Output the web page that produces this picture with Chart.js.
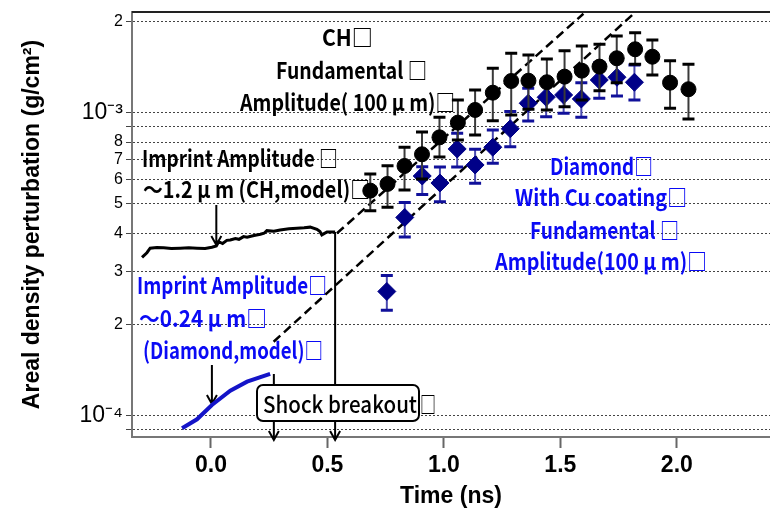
<!DOCTYPE html>
<html>
<head>
<meta charset="utf-8">
<script src="https://cdn.jsdelivr.net/npm/chart.js@4.4.1/dist/chart.umd.min.js"></script>
<style>
  html, body { margin: 0; padding: 0; background: #fff; }
  #wrap { width: 770px; height: 508px; }
</style>
</head>
<body>
<div id="wrap"><canvas id="grafico" width="770" height="508"></canvas></div>
<script>
// Datos CH (círculos negros): tiempo (ns), amplitud y barras de error
const chTime  = [0.684, 0.758, 0.831, 0.906, 0.981, 1.060, 1.134, 1.210, 1.289, 1.363, 1.442, 1.518, 1.592, 1.668, 1.742, 1.821, 1.895, 1.971, 2.050];
const chValue = [5.53e-4, 5.82e-4, 6.67e-4, 7.29e-4, 8.29e-4, 9.27e-4, 1.021e-3, 1.164e-3, 1.272e-3, 1.275e-3, 1.260e-3, 1.315e-3, 1.376e-3, 1.419e-3, 1.512e-3, 1.619e-3, 1.530e-3, 1.256e-3, 1.195e-3];
const chTop   = [6.28e-4, 6.68e-4, 7.69e-4, 8.64e-4, 9.66e-4, 1.101e-3, 1.188e-3, 1.401e-3, 1.570e-3, 1.550e-3, 1.503e-3, 1.602e-3, 1.660e-3, 1.682e-3, 1.791e-3, 1.837e-3, 1.738e-3, 1.484e-3, 1.444e-3];
const chBot   = [4.75e-4, 4.87e-4, 5.56e-4, 6.04e-4, 7.14e-4, 8.13e-4, 8.44e-4, 9.41e-4, 9.83e-4, 1.026e-3, 1.021e-3, 1.047e-3, 1.101e-3, 1.182e-3, 1.256e-3, 1.444e-3, 1.331e-3, 1.034e-3, 9.53e-4];

// Datos diamante con Cu (rombos azules)
const diaTime  = [0.755, 0.832, 0.907, 0.983, 1.057, 1.134, 1.210, 1.285, 1.362, 1.439, 1.514, 1.590, 1.667, 1.743, 1.818];
const diaValue = [2.57e-4, 4.51e-4, 6.18e-4, 5.86e-4, 7.59e-4, 6.72e-4, 7.69e-4, 8.85e-4, 1.074e-3, 1.124e-3, 1.144e-3, 1.110e-3, 1.282e-3, 1.309e-3, 1.260e-3];
const diaTop   = [2.90e-4, 5.05e-4, 6.63e-4, 6.62e-4, 8.55e-4, 7.57e-4, 8.77e-4, 1.008e-3, 1.204e-3, 1.266e-3, 1.315e-3, 1.256e-3, 1.462e-3, 1.473e-3, 1.437e-3];
const diaBot   = [2.23e-4, 3.89e-4, 5.37e-4, 5.08e-4, 6.62e-4, 5.85e-4, 6.81e-4, 7.72e-4, 9.39e-4, 9.70e-4, 9.95e-4, 9.66e-4, 1.116e-3, 1.135e-3, 1.101e-3];

// Curvas del modelo (impresión)
const chModelTime  = [-0.296, -0.275, -0.261, -0.232, -0.203, -0.170, -0.132, -0.095, -0.060, -0.025, 0.004, 0.023, 0.033, 0.050, 0.068, 0.083, 0.105, 0.120, 0.140, 0.155, 0.185, 0.212, 0.228, 0.240, 0.270, 0.297, 0.335, 0.369, 0.400, 0.426, 0.455, 0.468, 0.476, 0.498, 0.533];
const chModelValue = [3.33e-4, 3.45e-4, 3.57e-4, 3.59e-4, 3.585e-4, 3.56e-4, 3.57e-4, 3.58e-4, 3.57e-4, 3.56e-4, 3.596e-4, 3.63e-4, 3.75e-4, 3.70e-4, 3.79e-4, 3.80e-4, 3.84e-4, 3.82e-4, 3.90e-4, 3.88e-4, 3.93e-4, 3.97e-4, 4.00e-4, 4.08e-4, 4.06e-4, 4.10e-4, 4.14e-4, 4.155e-4, 4.17e-4, 4.19e-4, 4.12e-4, 4.05e-4, 3.95e-4, 4.04e-4, 4.04e-4];
const diaModelTime  = [-0.124, -0.060, 0.004, 0.083, 0.155, 0.254];
const diaModelValue = [9.09e-5, 9.73e-5, 1.085e-4, 1.209e-4, 1.295e-4, 1.373e-4];

// Rectas de crecimiento (líneas discontinuas)
const chFitTime   = [0.541, 1.599];
const chFitValue  = [4.00e-4, 2.12e-3];
const diaFitTime  = [0.269, 1.814];
const diaFitValue = [1.754e-4, 2.12e-3];

// Tiempos de ruptura del choque (ns)
const breakoutTimes = [0.27, 0.533];

// Marcas de los ejes
const xTickValues = [0, 0.5, 1.0, 1.5, 2.0];
const yTickValues = [9e-5, 1e-4, 2e-4, 3e-4, 4e-4, 5e-4, 6e-4, 7e-4, 8e-4, 9e-4, 1e-3, 2e-3];
const yTickLabels = ['', '10⁻⁴', '2', '3', '4', '5', '6', '7', '8', '', '10⁻³', '2'];

const pts = (xs, ys) => xs.map((x, i) => ({ x: x, y: ys[i] }));

const NOTE_FONT = "bold 23px 'Noto Sans CJK JP', 'Noto Sans', sans-serif";
const BLUE_TEXT = '#0a0af5';
const NAVY = '#000088';
const AXIS_FONT = "'Liberation Sans', Arial, sans-serif";

// Textos de las anotaciones
const notes = [
  { text: 'CH□', x: 322, y: 37, w: 51, color: '#000' },
  { text: 'Fundamental □', x: 276, y: 70, w: 151, color: '#000' },
  { text: 'Amplitude( 100 μ m)□', x: 240, y: 102, w: 215, color: '#000' },
  { text: 'Imprint Amplitude □', x: 142, y: 158, w: 196, color: '#000' },
  { text: '～1.2 μ m (CH,model)□', x: 143, y: 189, w: 227, color: '#000' },
  { text: 'Imprint Amplitude□', x: 137, y: 285, w: 190, color: BLUE_TEXT },
  { text: '～0.24 μ m□', x: 139, y: 318, w: 128, color: BLUE_TEXT },
  { text: '(Diamond,model)□', x: 143, y: 350, w: 180, color: BLUE_TEXT },
  { text: 'Diamond□', x: 550, y: 166, w: 103, color: BLUE_TEXT },
  { text: 'With Cu coating□', x: 515, y: 197, w: 172, color: BLUE_TEXT },
  { text: 'Fundamental □', x: 530, y: 230, w: 149, color: BLUE_TEXT },
  { text: 'Amplitude(100 μ m)□', x: 495, y: 261, w: 212, color: BLUE_TEXT }
];

// Dibuja barras de error con las escalas del gráfico
function drawErrors(chart, xs, tops, bots, stemColor, capColor) {
  const ctx = chart.ctx;
  const sx = chart.scales.x, sy = chart.scales.y;
  ctx.save();
  for (let i = 0; i < xs.length; i++) {
    const px = sx.getPixelForValue(xs[i]);
    const pt = sy.getPixelForValue(tops[i]);
    const pb = sy.getPixelForValue(bots[i]);
    ctx.strokeStyle = stemColor;
    ctx.lineWidth = 2;
    ctx.beginPath(); ctx.moveTo(px, pt); ctx.lineTo(px, pb); ctx.stroke();
    ctx.strokeStyle = capColor;
    ctx.lineWidth = 3;
    ctx.beginPath();
    ctx.moveTo(px - 6, pt); ctx.lineTo(px + 6, pt);
    ctx.moveTo(px - 6, pb); ctx.lineTo(px + 6, pb);
    ctx.stroke();
  }
  ctx.restore();
}

function arrowDown(ctx, x, y1, y2) {
  ctx.beginPath();
  ctx.moveTo(x, y1); ctx.lineTo(x, y2);
  ctx.moveTo(x - 5, y2 - 9); ctx.lineTo(x, y2); ctx.lineTo(x + 5, y2 - 9);
  ctx.stroke();
}

const errorBars = {
  id: 'errorBars',
  beforeDatasetDraw(chart, args) {
    if (args.index === 0) drawErrors(chart, chTime, chTop, chBot, '#3a3a3a', '#000');
    if (args.index === 1) drawErrors(chart, diaTime, diaTop, diaBot, '#4a4ab0', '#10109a');
  }
};

const annotations = {
  id: 'annotations',
  beforeDatasetsDraw(chart) {
    const ctx = chart.ctx;
    const sx = chart.scales.x, sy = chart.scales.y;
    const area = chart.chartArea;
    ctx.save();
    // marco superior
    ctx.strokeStyle = '#222';
    ctx.lineWidth = 2;
    ctx.beginPath(); ctx.moveTo(area.left, area.top); ctx.lineTo(area.right, area.top); ctx.stroke();

    ctx.font = NOTE_FONT;
    ctx.textBaseline = 'middle';
    ctx.textAlign = 'left';
    notes.forEach(n => {
      ctx.fillStyle = n.color;
      ctx.fillText(n.text, n.x, n.y, n.w);
    });

    // flechas de la amplitud de impresión
    ctx.strokeStyle = '#000';
    ctx.lineWidth = 2;
    const chArrowX = sx.getPixelForValue(chModelTime[11]);
    arrowDown(ctx, chArrowX, 205, sy.getPixelForValue(chModelValue[11]) - 1);
    const diaArrowX = sx.getPixelForValue(diaModelTime[2]);
    arrowDown(ctx, diaArrowX, 365, sy.getPixelForValue(diaModelValue[2]) - 1);

    // ruptura del choque
    const boxL = 257, boxR = 419, boxT = 385, boxB = 421;
    const xb1 = sx.getPixelForValue(breakoutTimes[0]);
    const xb2 = sx.getPixelForValue(breakoutTimes[1]);
    ctx.beginPath();
    ctx.moveTo(xb1, sy.getPixelForValue(diaModelValue[diaModelValue.length - 1])); ctx.lineTo(xb1, boxT);
    ctx.moveTo(xb2, sy.getPixelForValue(chModelValue[chModelValue.length - 1])); ctx.lineTo(xb2, boxT);
    ctx.stroke();
    arrowDown(ctx, xb1, boxB, area.bottom + 3);
    arrowDown(ctx, xb2, boxB, area.bottom + 3);

    ctx.fillStyle = '#fff';
    ctx.lineWidth = 2;
    ctx.beginPath();
    ctx.roundRect(boxL, boxT, boxR - boxL, boxB - boxT, 6);
    ctx.fill(); ctx.stroke();
    ctx.fillStyle = '#000';
    ctx.font = "500 23px 'Noto Sans CJK JP', 'Noto Sans', sans-serif";
    ctx.fillText('Shock breakout', 263, 404, 154);
    ctx.fillText('□', 420, 404, 16);
    ctx.restore();
  }
};

new Chart(document.getElementById('grafico'), {
  type: 'scatter',
  data: {
    datasets: [
      {
        label: 'CH',
        data: pts(chTime, chValue),
        pointStyle: 'circle',
        pointRadius: 7.5,
        pointBackgroundColor: '#000',
        pointBorderColor: '#000',
        showLine: false
      },
      {
        label: 'Diamond with Cu coating',
        data: pts(diaTime, diaValue),
        pointStyle: 'rectRot',
        pointRadius: 9,
        pointBackgroundColor: NAVY,
        pointBorderColor: NAVY,
        showLine: false
      },
      {
        label: 'CH model',
        data: pts(chModelTime, chModelValue),
        showLine: true,
        borderColor: '#000',
        borderWidth: 3,
        pointRadius: 0,
        tension: 0
      },
      {
        label: 'Diamond model',
        data: pts(diaModelTime, diaModelValue),
        showLine: true,
        borderColor: '#1414c8',
        borderWidth: 4,
        pointRadius: 0,
        tension: 0
      },
      {
        label: 'CH growth',
        data: pts(chFitTime, chFitValue),
        showLine: true,
        borderColor: '#000',
        borderWidth: 2.5,
        borderDash: [9, 5],
        pointRadius: 0
      },
      {
        label: 'Diamond growth',
        data: pts(diaFitTime, diaFitValue),
        showLine: true,
        borderColor: '#000',
        borderWidth: 2.5,
        borderDash: [9, 5],
        pointRadius: 0
      }
    ]
  },
  options: {
    responsive: false,
    devicePixelRatio: 1,
    animation: false,
    layout: { autoPadding: false, padding: { top: 12, right: 0, left: 0, bottom: 0 } },
    plugins: {
      legend: { display: false },
      tooltip: { enabled: false }
    },
    scales: {
      x: {
        type: 'linear',
        min: -0.339,
        max: 2.40,
        afterBuildTicks: s => { s.ticks = xTickValues.map(v => ({ value: v })); },
        afterFit: s => { s.height = 71; s.paddingLeft = 0; s.paddingRight = 0; },
        grid: { drawOnChartArea: false, drawTicks: true, tickLength: 11, tickColor: '#666', tickWidth: 2 },
        border: { display: true, color: '#777', width: 2 },
        ticks: {
          color: '#000',
          padding: 4,
          font: { family: AXIS_FONT, size: 23, weight: 'bold' },
          callback: v => v.toFixed(1)
        },
        title: {
          display: true,
          text: 'Time (ns)',
          color: '#000',
          font: { family: AXIS_FONT, size: 23, weight: 'bold', lineHeight: 1.0 },
          padding: { top: 0, bottom: 0 }
        }
      },
      y: {
        type: 'logarithmic',
        min: 8.505e-5,
        max: 2.149e-3,
        afterBuildTicks: s => { s.ticks = yTickValues.map(v => ({ value: v })); },
        afterFit: s => { s.width = 132; s.paddingTop = 0; s.paddingBottom = 0; },
        grid: { color: '#444', lineWidth: 1, tickLength: 6, tickColor: '#444', tickWidth: 1, tickBorderDash: [] },
        border: { display: true, color: '#777', width: 2, dash: [2, 2] },
        ticks: {
          color: '#000',
          padding: 3,
          autoSkip: false,
          font: ctx => {
            const v = ctx.tick ? ctx.tick.value : 0;
            const big = Math.abs(Math.log10(v) - Math.round(Math.log10(v))) < 1e-6;
            return { family: AXIS_FONT, size: big ? 23 : 16 };
          },
          callback: (v, i) => yTickLabels[i]
        },
        title: {
          display: true,
          text: 'Areal density perturbation (g/cm²)',
          color: '#000',
          font: { family: AXIS_FONT, size: 23, weight: 'bold' },
          padding: { top: 19, bottom: 0 }
        }
      }
    }
  },
  plugins: [errorBars, annotations]
});
</script>
</body>
</html>
